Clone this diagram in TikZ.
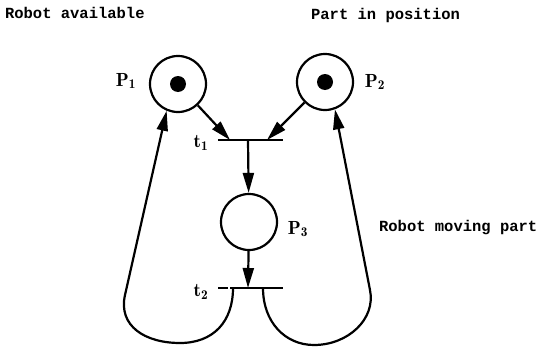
\documentclass[tikz,border=0pt]{standalone}
\usepackage{fontspec}
\newfontfamily\monofont{Liberation Mono}
\usetikzlibrary{arrows.meta}
\begin{document}
\begin{tikzpicture}[x=1pt,y=-1pt,line width=2.2pt,
  place/.style={circle,draw,minimum size=56pt,inner sep=0pt},
  token/.style={circle,fill,minimum size=16pt,inner sep=0pt},
  tbar/.style={rectangle,fill,minimum height=2.4pt,inner sep=0pt},
  txt/.style={font=\monofont\bfseries\fontsize{15.5}{18}\selectfont,inner sep=0pt,anchor=base west},
  plbl/.style={font=\bfseries\fontsize{19}{22}\selectfont,inner sep=0pt},
  arr/.style={-{Triangle[length=20pt,width=11pt]}}]
\useasboundingbox (0,0) rectangle (536,351);
% places
\node[place] (P1) at (178,84) {};
\node[token] (k1) at (P1) {};
\node[place] (P2) at (325,82) {};
\node[token] (k2) at (P2) {};
\node[place] (P3) at (249,222) {};
% transitions
\node[tbar,minimum width=65pt] (t1) at (250.5,140) {};
\node[tbar,minimum width=53pt] (t2) at (256.5,288) {};
\node[tbar,minimum width=10pt] (t2d) at (222.5,288) {};
\coordinate (t1a) at (230,140);
\coordinate (t1b) at (267,140);
\coordinate (t1c) at (248,140);
\coordinate (t2a) at (248,288);
\coordinate (t2l) at (233,288);
\coordinate (t2r) at (263,288);
% arcs
\draw[arr] (P1) -- (t1a);
\draw[arr] (P2) -- (t1b);
\draw[arr] (t1c) -- (P3);
\draw[arr] (P3) -- (t2a);
\draw[arr] (t2l) .. controls (233,322) and (213,343) .. (180,343)
  .. controls (145,343) and (118,326) .. (125,295) -- (P1.-113);
\draw[arr] (t2r) .. controls (263,322) and (285,345) .. (314,345)
  .. controls (348,345) and (376,319) .. (370,290) -- (P2.-70);
% labels
\node[plbl] (L1) at (126,81) {$\mathbf{P}_{\mathbf{1}}$};
\node[plbl] (L2) at (375,82) {$\mathbf{P}_{\mathbf{2}}$};
\node[plbl] (L3) at (298,229) {$\mathbf{P}_{\mathbf{3}}$};
\node[plbl] (Lt1) at (201,143) {$\mathbf{t}_{\mathbf{1}}$};
\node[plbl] (Lt2) at (201,292) {$\mathbf{t}_{\mathbf{2}}$};
\node[txt] (a1) at (4,18) {Robot available};
\node[txt] (a2) at (310,19) {Part in position};
\node[txt] (a3) at (378,231) {Robot moving part};
\end{tikzpicture}
\end{document}
